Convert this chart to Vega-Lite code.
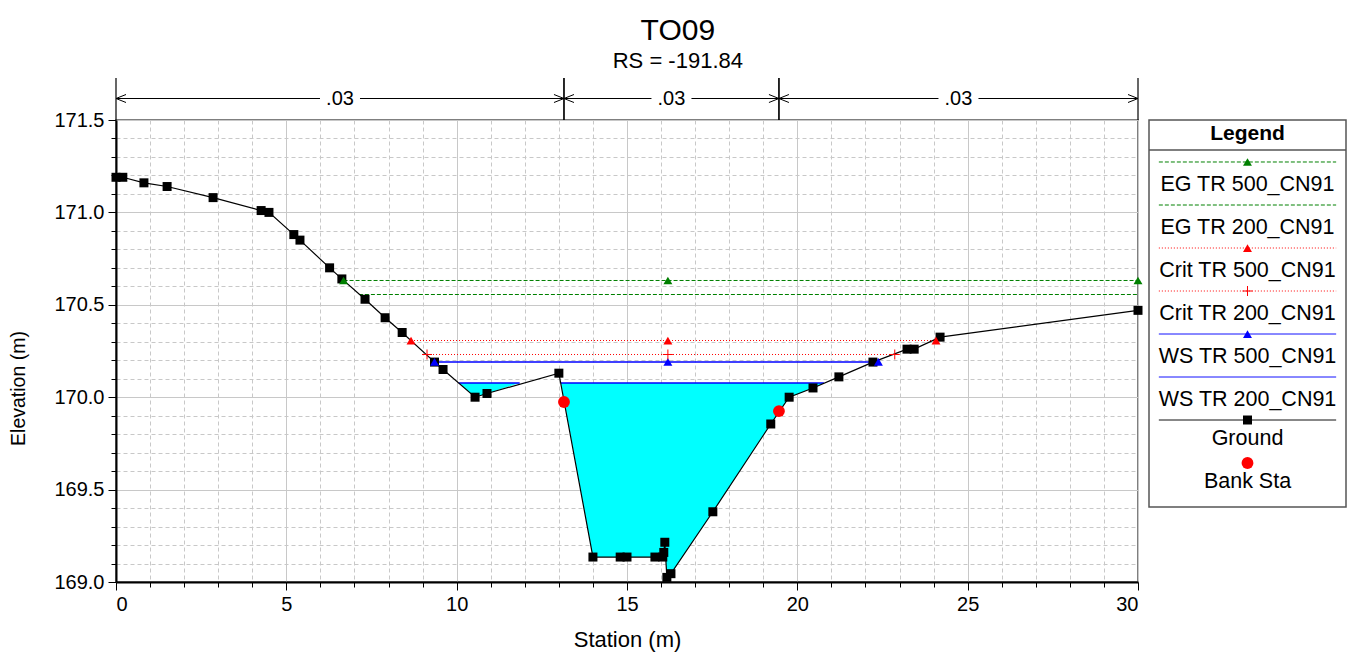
{
  "$schema": "https://vega.github.io/schema/vega-lite/v6.json",
  "padding": {"left": 8, "top": 15, "right": 5, "bottom": 5},
  "bounds": "flush",
  "spacing": 11,
  "title": {"text": "TO09", "subtitle": "RS = -191.84", "anchor": "middle", "frame": "bounds", "font": "Liberation Sans", "subtitleFont": "Liberation Sans", "fontSize": 30, "subtitleFontSize": 22, "fontWeight": "normal", "color": "black", "subtitleColor": "black", "offset": 5, "subtitlePadding": 5},
  "config": {"font": "Liberation Sans", "axis": {"labelFont": "Liberation Sans", "titleFont": "Liberation Sans", "labelColor": "black", "titleColor": "black", "tickColor": "black", "domainColor": "black"}},
  "datasets": {
    "ground": [
      {"station": 0, "elev": 171.19}, {"station": 0.2, "elev": 171.19}, {"station": 0.82, "elev": 171.16}, {"station": 1.5, "elev": 171.14},
      {"station": 2.85, "elev": 171.08}, {"station": 4.26, "elev": 171.01}, {"station": 4.49, "elev": 171.0}, {"station": 5.22, "elev": 170.88},
      {"station": 5.4, "elev": 170.85}, {"station": 6.27, "elev": 170.7}, {"station": 6.63, "elev": 170.64}, {"station": 7.31, "elev": 170.53},
      {"station": 7.9, "elev": 170.43}, {"station": 8.4, "elev": 170.35}, {"station": 9.35, "elev": 170.19}, {"station": 9.6, "elev": 170.15},
      {"station": 10.54, "elev": 170.0}, {"station": 10.89, "elev": 170.02}, {"station": 13.0, "elev": 170.13}, {"station": 14.0, "elev": 169.135},
      {"station": 14.8, "elev": 169.135}, {"station": 15.0, "elev": 169.135}, {"station": 15.82, "elev": 169.135}, {"station": 16.05, "elev": 169.135},
      {"station": 16.08, "elev": 169.16}, {"station": 16.11, "elev": 169.215}, {"station": 16.17, "elev": 169.025}, {"station": 16.29, "elev": 169.045},
      {"station": 17.52, "elev": 169.38}, {"station": 19.22, "elev": 169.855}, {"station": 19.76, "elev": 170.0}, {"station": 20.46, "elev": 170.05},
      {"station": 21.22, "elev": 170.11}, {"station": 22.22, "elev": 170.19}, {"station": 23.22, "elev": 170.26}, {"station": 23.43, "elev": 170.26},
      {"station": 24.19, "elev": 170.325}, {"station": 30.0, "elev": 170.47}
    ],
    "water": [
      {"pocket": "left", "station": 10.06, "elev": 170.0768, "ws": 170.0768}, {"pocket": "left", "station": 10.54, "elev": 170.0, "ws": 170.0768},
      {"pocket": "left", "station": 10.89, "elev": 170.02, "ws": 170.0768}, {"pocket": "left", "station": 11.85, "elev": 170.0768, "ws": 170.0768},
      {"pocket": "main", "station": 13.06, "elev": 170.0768, "ws": 170.0768}, {"pocket": "main", "station": 14.0, "elev": 169.135, "ws": 170.0768},
      {"pocket": "main", "station": 14.8, "elev": 169.135, "ws": 170.0768}, {"pocket": "main", "station": 15.0, "elev": 169.135, "ws": 170.0768},
      {"pocket": "main", "station": 15.82, "elev": 169.135, "ws": 170.0768}, {"pocket": "main", "station": 16.05, "elev": 169.135, "ws": 170.0768},
      {"pocket": "main", "station": 16.08, "elev": 169.16, "ws": 170.0768}, {"pocket": "main", "station": 16.11, "elev": 169.215, "ws": 170.0768},
      {"pocket": "main", "station": 16.17, "elev": 169.025, "ws": 170.0768}, {"pocket": "main", "station": 16.29, "elev": 169.045, "ws": 170.0768},
      {"pocket": "main", "station": 17.52, "elev": 169.38, "ws": 170.0768}, {"pocket": "main", "station": 19.22, "elev": 169.855, "ws": 170.0768},
      {"pocket": "main", "station": 19.76, "elev": 170.0, "ws": 170.0768}, {"pocket": "main", "station": 20.46, "elev": 170.05, "ws": 170.0768},
      {"pocket": "main", "station": 20.78, "elev": 170.0768, "ws": 170.0768}
    ],
    "profiles": [
      {"profile": "EG TR 500_CN91", "seg": "a", "station": 6.68, "elev": 170.6315}, {"profile": "EG TR 500_CN91", "seg": "a", "station": 16.2, "elev": 170.6315}, {"profile": "EG TR 500_CN91", "seg": "a", "station": 30.0, "elev": 170.6315},
      {"profile": "EG TR 200_CN91", "seg": "a", "station": 7.13, "elev": 170.5557}, {"profile": "EG TR 200_CN91", "seg": "a", "station": 30.0, "elev": 170.5557},
      {"profile": "Crit TR 500_CN91", "seg": "a", "station": 8.66, "elev": 170.3068}, {"profile": "Crit TR 500_CN91", "seg": "a", "station": 16.2, "elev": 170.3068}, {"profile": "Crit TR 500_CN91", "seg": "a", "station": 24.07, "elev": 170.3068},
      {"profile": "Crit TR 200_CN91", "seg": "a", "station": 9.13, "elev": 170.2311}, {"profile": "Crit TR 200_CN91", "seg": "a", "station": 16.2, "elev": 170.2311}, {"profile": "Crit TR 200_CN91", "seg": "a", "station": 22.86, "elev": 170.2311},
      {"profile": "WS TR 500_CN91", "seg": "a", "station": 9.35, "elev": 170.1905}, {"profile": "WS TR 500_CN91", "seg": "a", "station": 16.2, "elev": 170.1905}, {"profile": "WS TR 500_CN91", "seg": "a", "station": 22.38, "elev": 170.1905},
      {"profile": "WS TR 200_CN91", "seg": "a", "station": 10.06, "elev": 170.0768}, {"profile": "WS TR 200_CN91", "seg": "a", "station": 11.85, "elev": 170.0768},
      {"profile": "WS TR 200_CN91", "seg": "b", "station": 13.06, "elev": 170.0768}, {"profile": "WS TR 200_CN91", "seg": "b", "station": 20.78, "elev": 170.0768}
    ],
    "banks": [{"station": 13.15, "elev": 169.974}, {"station": 19.46, "elev": 169.925}],
    "nvalues": [
      {"left": 0, "right": 13.15, "mid": 6.575, "n": ".03"},
      {"left": 13.15, "right": 19.46, "mid": 16.305, "n": ".03"},
      {"left": 19.46, "right": 30, "mid": 24.73, "n": ".03"}
    ],
    "legend": [
      {"name": "EG TR 500_CN91", "order": 1}, {"name": "EG TR 200_CN91", "order": 2}, {"name": "Crit TR 500_CN91", "order": 3},
      {"name": "Crit TR 200_CN91", "order": 4}, {"name": "WS TR 500_CN91", "order": 5}, {"name": "WS TR 200_CN91", "order": 6},
      {"name": "Ground", "order": 7}, {"name": "Bank Sta", "order": 8}
    ]
  },
  "resolve": {"scale": {"color": "independent", "strokeDash": "independent"}},
  "hconcat": [
    {
      "width": 1022,
      "height": 462,
      "view": {"stroke": "#555", "strokeWidth": 1.5},
      "resolve": {"axis": {"x": "independent", "y": "independent"}},
      "layer": [
        {
          "data": {"name": "water"},
          "mark": {"type": "area", "color": "#00ffff", "opacity": 1},
          "encoding": {
            "x": {"field": "station", "type": "quantitative", "scale": {"domain": [0, 30], "nice": false, "zero": false},
              "axis": {"title": "Station (m)", "orient": "bottom", "values": [0,1,2,3,4,5,6,7,8,9,10,11,12,13,14,15,16,17,18,19,20,21,22,23,24,25,26,27,28,29,30],
                "labelExpr": "datum.value % 5 === 0 ? datum.label : ''", "labelOverlap": false, "labelFontSize": 20, "titleFontSize": 22, "titleFontWeight": "normal",
                "titlePadding": 15, "labelPadding": 4, "domainWidth": 2, "grid": true, "gridColor": "#c8c8c8", "gridWidth": 1,
                "gridDash": {"condition": {"test": "datum.value % 5 === 0", "value": []}, "value": [4, 3]},
                "tickSize": {"condition": {"test": "datum.value % 5 === 0", "value": 8}, "value": 5}}},
            "y": {"field": "elev", "type": "quantitative", "scale": {"domain": [169, 171.5], "nice": false, "zero": false},
              "axis": {"title": "Elevation (m)", "orient": "left", "values": [169.0,169.1,169.2,169.3,169.4,169.5,169.6,169.7,169.8,169.9,170.0,170.1,170.2,170.3,170.4,170.5,170.6,170.7,170.8,170.9,171.0,171.1,171.2,171.3,171.4,171.5],
                "format": ".1f", "labelExpr": "abs(datum.value * 2 - round(datum.value * 2)) < 0.001 ? datum.label : ''", "labelOverlap": false,
                "labelFontSize": 20, "titleFontSize": 19.5, "titleFontWeight": "normal", "titlePadding": 25, "titleY": 268, "labelPadding": 4, "domainWidth": 2,
                "grid": true, "gridColor": "#c8c8c8", "gridWidth": 1,
                "gridDash": {"condition": {"test": "abs(datum.value * 2 - round(datum.value * 2)) < 0.001", "value": []}, "value": [4, 3]},
                "tickSize": {"condition": {"test": "abs(datum.value * 2 - round(datum.value * 2)) < 0.001", "value": 8}, "value": 5}}},
            "y2": {"field": "ws"},
            "detail": {"field": "pocket"}
          }
        },
        {
          "data": {"name": "profiles"},
          "transform": [{"filter": {"field": "profile", "oneOf": ["EG TR 500_CN91", "EG TR 200_CN91"]}}],
          "mark": {"type": "line", "strokeWidth": 1, "color": "#008000", "strokeDash": [4, 2]},
          "encoding": {
            "x": {"field": "station", "type": "quantitative", "scale": {"domain": [0, 30]}, "axis": null},
            "y": {"field": "elev", "type": "quantitative", "scale": {"domain": [169, 171.5]}, "axis": null},
            "detail": {"field": "profile"}
          }
        },
        {
          "data": {"name": "profiles"},
          "transform": [{"filter": {"field": "profile", "oneOf": ["Crit TR 500_CN91", "Crit TR 200_CN91"]}}],
          "mark": {"type": "line", "strokeWidth": 1, "color": "#ff0000", "strokeDash": [1, 2]},
          "encoding": {
            "x": {"field": "station", "type": "quantitative", "scale": {"domain": [0, 30]}, "axis": null},
            "y": {"field": "elev", "type": "quantitative", "scale": {"domain": [169, 171.5]}, "axis": null},
            "detail": {"field": "profile"}
          }
        },
        {
          "data": {"name": "profiles"},
          "transform": [{"filter": {"field": "profile", "oneOf": ["WS TR 500_CN91", "WS TR 200_CN91"]}}],
          "mark": {"type": "line", "strokeWidth": 1.5, "color": "#0000ff"},
          "encoding": {
            "x": {"field": "station", "type": "quantitative", "scale": {"domain": [0, 30]}, "axis": null},
            "y": {"field": "elev", "type": "quantitative", "scale": {"domain": [169, 171.5]}, "axis": null},
            "detail": [{"field": "profile"}, {"field": "seg"}]
          }
        },
        {
          "data": {"name": "ground"},
          "mark": {"type": "line", "color": "black", "strokeWidth": 1.2},
          "encoding": {
            "x": {"field": "station", "type": "quantitative", "scale": {"domain": [0, 30]}, "axis": null},
            "y": {"field": "elev", "type": "quantitative", "scale": {"domain": [169, 171.5]}, "axis": null}
          }
        },
        {
          "data": {"name": "ground"},
          "mark": {"type": "point", "shape": "square", "filled": true, "color": "black", "size": 81, "opacity": 1},
          "encoding": {
            "x": {"field": "station", "type": "quantitative", "scale": {"domain": [0, 30]}, "axis": null},
            "y": {"field": "elev", "type": "quantitative", "scale": {"domain": [169, 171.5]}, "axis": null}
          }
        },
        {
          "data": {"name": "profiles"},
          "transform": [{"filter": {"field": "profile", "equal": "EG TR 500_CN91"}}],
          "mark": {"type": "point", "shape": "triangle-up", "filled": true, "size": 80, "opacity": 1, "color": "#008000"},
          "encoding": {
            "x": {"field": "station", "type": "quantitative", "scale": {"domain": [0, 30]}, "axis": null},
            "y": {"field": "elev", "type": "quantitative", "scale": {"domain": [169, 171.5]}, "axis": null}
          }
        },
        {
          "data": {"name": "profiles"},
          "transform": [{"filter": {"field": "profile", "equal": "Crit TR 500_CN91"}}],
          "mark": {"type": "point", "shape": "triangle-up", "filled": true, "size": 80, "opacity": 1, "color": "#ff0000"},
          "encoding": {
            "x": {"field": "station", "type": "quantitative", "scale": {"domain": [0, 30]}, "axis": null},
            "y": {"field": "elev", "type": "quantitative", "scale": {"domain": [169, 171.5]}, "axis": null}
          }
        },
        {
          "data": {"name": "profiles"},
          "transform": [{"filter": {"field": "profile", "equal": "WS TR 500_CN91"}}],
          "mark": {"type": "point", "shape": "triangle-up", "filled": true, "size": 80, "opacity": 1, "color": "#0000ff"},
          "encoding": {
            "x": {"field": "station", "type": "quantitative", "scale": {"domain": [0, 30]}, "axis": null},
            "y": {"field": "elev", "type": "quantitative", "scale": {"domain": [169, 171.5]}, "axis": null}
          }
        },
        {
          "data": {"name": "profiles"},
          "transform": [{"filter": {"field": "profile", "equal": "Crit TR 200_CN91"}}],
          "mark": {"type": "point", "shape": "M-1,0H1M0,-1V1", "filled": false, "color": "#ff0000", "strokeWidth": 1, "size": 100, "opacity": 1},
          "encoding": {
            "x": {"field": "station", "type": "quantitative", "scale": {"domain": [0, 30]}, "axis": null},
            "y": {"field": "elev", "type": "quantitative", "scale": {"domain": [169, 171.5]}, "axis": null}
          }
        },
        {
          "data": {"name": "banks"},
          "mark": {"type": "point", "shape": "circle", "filled": true, "color": "#ff0000", "size": 140, "opacity": 1},
          "encoding": {
            "x": {"field": "station", "type": "quantitative", "scale": {"domain": [0, 30]}, "axis": null},
            "y": {"field": "elev", "type": "quantitative", "scale": {"domain": [169, 171.5]}, "axis": null}
          }
        },
        {
          "data": {"name": "nvalues"},
          "mark": {"type": "rule", "color": "black", "strokeWidth": 1.2},
          "encoding": {
            "x": {"field": "left", "type": "quantitative", "scale": {"domain": [0, 30]}, "axis": null},
            "y": {"datum": 171.5, "scale": {"domain": [169, 171.5]}, "axis": null},
            "y2": {"datum": 171.7273}
          }
        },
        {
          "data": {"name": "nvalues"},
          "mark": {"type": "rule", "color": "black", "strokeWidth": 1.2},
          "encoding": {
            "x": {"field": "right", "type": "quantitative", "scale": {"domain": [0, 30]}, "axis": null},
            "y": {"datum": 171.5, "scale": {"domain": [169, 171.5]}, "axis": null},
            "y2": {"datum": 171.7273}
          }
        },
        {
          "data": {"name": "nvalues"},
          "mark": {"type": "rule", "color": "black", "strokeWidth": 1},
          "encoding": {
            "x": {"field": "left", "type": "quantitative", "scale": {"domain": [0, 30]}, "axis": null},
            "x2": {"field": "right"},
            "y": {"datum": 171.6163, "scale": {"domain": [169, 171.5]}, "axis": null}
          }
        },
        {
          "data": {"name": "nvalues"},
          "mark": {"type": "point", "shape": "M-1,-0.4H1V0.4H-1Z", "filled": true, "color": "white", "size": 1600, "opacity": 1, "strokeWidth": 0},
          "encoding": {
            "x": {"field": "mid", "type": "quantitative", "scale": {"domain": [0, 30]}, "axis": null},
            "y": {"datum": 171.6163, "scale": {"domain": [169, 171.5]}, "axis": null}
          }
        },
        {
          "data": {"name": "nvalues"},
          "mark": {"type": "text", "fontSize": 20, "color": "black", "baseline": "middle", "align": "center"},
          "encoding": {
            "x": {"field": "mid", "type": "quantitative", "scale": {"domain": [0, 30]}, "axis": null},
            "y": {"datum": 171.6163, "scale": {"domain": [169, 171.5]}, "axis": null},
            "text": {"field": "n"}
          }
        },
        {
          "data": {"name": "nvalues"},
          "mark": {"type": "point", "shape": "M1,-0.4L0,0L1,0.4", "filled": false, "color": "black", "strokeWidth": 1, "size": 400, "opacity": 1},
          "encoding": {
            "x": {"field": "left", "type": "quantitative", "scale": {"domain": [0, 30]}, "axis": null},
            "y": {"datum": 171.6163, "scale": {"domain": [169, 171.5]}, "axis": null}
          }
        },
        {
          "data": {"name": "nvalues"},
          "mark": {"type": "point", "shape": "M-1,-0.4L0,0L-1,0.4", "filled": false, "color": "black", "strokeWidth": 1, "size": 400, "opacity": 1},
          "encoding": {
            "x": {"field": "right", "type": "quantitative", "scale": {"domain": [0, 30]}, "axis": null},
            "y": {"datum": 171.6163, "scale": {"domain": [169, 171.5]}, "axis": null}
          }
        }
      ]
    },
    {
      "width": 197,
      "height": 387,
      "view": {"stroke": "#555", "strokeWidth": 1.5},
      "layer": [
        {
          "data": {"values": [{"label": "Legend"}]},
          "mark": {"type": "text", "fontSize": 21, "fontWeight": "bold", "color": "black", "baseline": "middle", "align": "center"},
          "encoding": {
            "x": {"datum": 0.5, "scale": {"domain": [0, 1], "nice": false, "zero": false}, "axis": null},
            "y": {"datum": 0.349, "scale": {"domain": [0.0233, 9.023], "reverse": true, "nice": false, "zero": false}, "axis": null},
            "text": {"field": "label"}
          }
        },
        {
          "data": {"values": [{"label": "Legend"}]},
          "mark": {"type": "rule", "color": "#555", "strokeWidth": 1.5},
          "encoding": {
            "x": {"datum": 0, "scale": {"domain": [0, 1]}, "axis": null},
            "x2": {"datum": 1},
            "y": {"datum": 0.721, "scale": {"domain": [0.0233, 9.023]}, "axis": null}
          }
        },
        {
          "data": {"name": "legend"},
          "transform": [{"filter": "datum.order <= 7"}],
          "mark": {"type": "rule", "strokeWidth": 1},
          "encoding": {
            "x": {"datum": 0.05, "scale": {"domain": [0, 1]}, "axis": null},
            "x2": {"datum": 0.95},
            "y": {"field": "order", "type": "quantitative", "scale": {"domain": [0.0233, 9.023]}, "axis": null},
            "color": {"field": "name", "type": "nominal", "legend": null,
              "scale": {"domain": ["EG TR 500_CN91", "EG TR 200_CN91", "Crit TR 500_CN91", "Crit TR 200_CN91", "WS TR 500_CN91", "WS TR 200_CN91", "Ground", "Bank Sta"],
                "range": ["#008000", "#008000", "#ff0000", "#ff0000", "#0000ff", "#0000ff", "#000000", "#ff0000"]}},
            "strokeDash": {"field": "name", "type": "nominal", "legend": null,
              "scale": {"domain": ["EG TR 500_CN91", "EG TR 200_CN91", "Crit TR 500_CN91", "Crit TR 200_CN91", "WS TR 500_CN91", "WS TR 200_CN91", "Ground", "Bank Sta"],
                "range": [[4, 2], [4, 2], [1, 2], [1, 2], [1, 0], [1, 0], [1, 0], [1, 0]]}}
          }
        },
        {
          "data": {"name": "legend"},
          "transform": [{"filter": {"field": "name", "oneOf": ["EG TR 500_CN91", "Crit TR 500_CN91", "WS TR 500_CN91"]}}],
          "mark": {"type": "point", "shape": "triangle-up", "filled": true, "size": 80, "opacity": 1},
          "encoding": {
            "x": {"datum": 0.5, "scale": {"domain": [0, 1]}, "axis": null},
            "y": {"field": "order", "type": "quantitative", "scale": {"domain": [0.0233, 9.023]}, "axis": null},
            "color": {"field": "name", "type": "nominal", "legend": null}
          }
        },
        {
          "data": {"name": "legend"},
          "transform": [{"filter": {"field": "name", "equal": "Crit TR 200_CN91"}}],
          "mark": {"type": "point", "shape": "M-1,0H1M0,-1V1", "filled": false, "color": "#ff0000", "strokeWidth": 1, "size": 100, "opacity": 1},
          "encoding": {
            "x": {"datum": 0.5, "scale": {"domain": [0, 1]}, "axis": null},
            "y": {"field": "order", "type": "quantitative", "scale": {"domain": [0.0233, 9.023]}, "axis": null}
          }
        },
        {
          "data": {"name": "legend"},
          "transform": [{"filter": {"field": "name", "equal": "Ground"}}],
          "mark": {"type": "point", "shape": "square", "filled": true, "color": "black", "size": 81, "opacity": 1},
          "encoding": {
            "x": {"datum": 0.5, "scale": {"domain": [0, 1]}, "axis": null},
            "y": {"field": "order", "type": "quantitative", "scale": {"domain": [0.0233, 9.023]}, "axis": null}
          }
        },
        {
          "data": {"name": "legend"},
          "transform": [{"filter": {"field": "name", "equal": "Bank Sta"}}],
          "mark": {"type": "point", "shape": "circle", "filled": true, "color": "#ff0000", "size": 140, "opacity": 1},
          "encoding": {
            "x": {"datum": 0.5, "scale": {"domain": [0, 1]}, "axis": null},
            "y": {"field": "order", "type": "quantitative", "scale": {"domain": [0.0233, 9.023]}, "axis": null}
          }
        },
        {
          "data": {"name": "legend"},
          "transform": [{"filter": "datum.order <= 6"}],
          "mark": {"type": "text", "fontSize": 21.5, "color": "black", "baseline": "middle", "align": "center", "dy": 23},
          "encoding": {
            "x": {"datum": 0.5, "scale": {"domain": [0, 1]}, "axis": null},
            "y": {"field": "order", "type": "quantitative", "scale": {"domain": [0.0233, 9.023]}, "axis": null},
            "text": {"field": "name"}
          }
        },
        {
          "data": {"name": "legend"},
          "transform": [{"filter": "datum.order >= 7"}],
          "mark": {"type": "text", "fontSize": 21.5, "color": "black", "baseline": "middle", "align": "center", "dy": 19},
          "encoding": {
            "x": {"datum": 0.5, "scale": {"domain": [0, 1]}, "axis": null},
            "y": {"field": "order", "type": "quantitative", "scale": {"domain": [0.0233, 9.023]}, "axis": null},
            "text": {"field": "name"}
          }
        }
      ]
    }
  ]
}
